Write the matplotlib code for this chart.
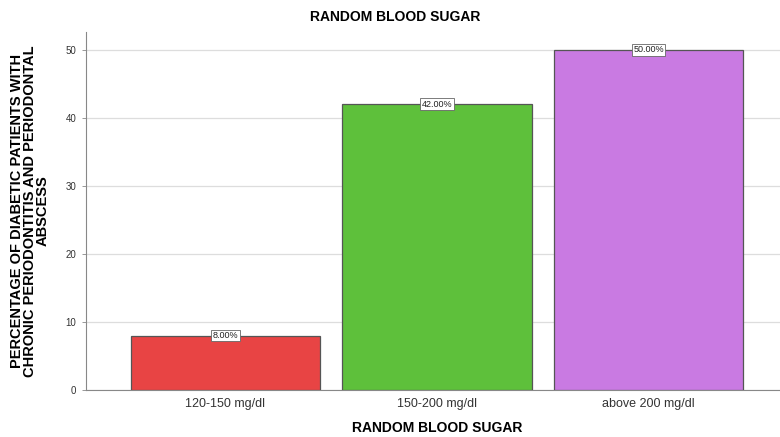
import matplotlib
matplotlib.use("Agg")
from matplotlib import pyplot as plt

# Random blood sugar groups and share of patients
categories = ["120-150 mg/dl", "150-200 mg/dl", "above 200 mg/dl"]
percentages = [8.0, 42.0, 50.0]
bar_colors = ["#e84444", "#5ec03b", "#c97ae2"]
y_ticks = [0, 10, 20, 30, 40, 50]

plt.rcParams['font.family'] = ['Liberation Sans', 'DejaVu Sans']

fig = plt.figure(figsize=(7.8, 4.37), dpi=100)
ax = fig.add_axes([0.110, 0.1076, 0.890, 0.8192])

positions = range(len(categories))
bars = ax.bar(positions, percentages, width=0.895, color=bar_colors,
              edgecolor="#555555", linewidth=0.9, zorder=3)

# value labels in small boxes on top of each bar
for bar, value in zip(bars, percentages):
    ax.text(bar.get_x() + bar.get_width() / 2, value, f"{value:.2f}%",
            ha="center", va="center", fontsize=6.5, color="#222222", zorder=5,
            bbox=dict(boxstyle="square,pad=0.15", facecolor="white",
                      edgecolor="#666666", linewidth=0.6))

ax.set_xlim(-0.66, 2.62)
ax.set_ylim(0, 52.6)
ax.set_xticks(list(positions))
ax.set_xticklabels(categories, fontsize=9, color="#333333")
ax.set_yticks(y_ticks)
ax.set_yticklabels([str(t) for t in y_ticks], fontsize=7, color="#333333")
ax.tick_params(axis="x", length=0, pad=6)
ax.tick_params(axis="y", length=3, width=0.6, color="#888888", pad=4)

ax.grid(axis="y", color="#dddddd", linewidth=0.9, zorder=0)
for side in ["top", "right"]:
    ax.spines[side].set_visible(False)
for side in ["left", "bottom"]:
    ax.spines[side].set_color("#888888")
    ax.spines[side].set_linewidth(0.8)

ax.set_title("RANDOM BLOOD SUGAR", fontsize=10, fontweight="bold", pad=8, x=0.445)
ax.set_xlabel("RANDOM BLOOD SUGAR", fontsize=10, fontweight="bold")
ax.xaxis.set_label_coords(0.506, -0.088)
ax.set_ylabel("PERCENTAGE OF DIABETIC PATIENTS WITH\nCHRONIC PERIODONTITIS AND PERIODONTAL\nABSCESS",
              fontsize=10.5, fontweight="bold", linespacing=0.9)
ax.yaxis.set_label_coords(-0.052, 0.5)

fig.savefig("out.png", dpi=100)
